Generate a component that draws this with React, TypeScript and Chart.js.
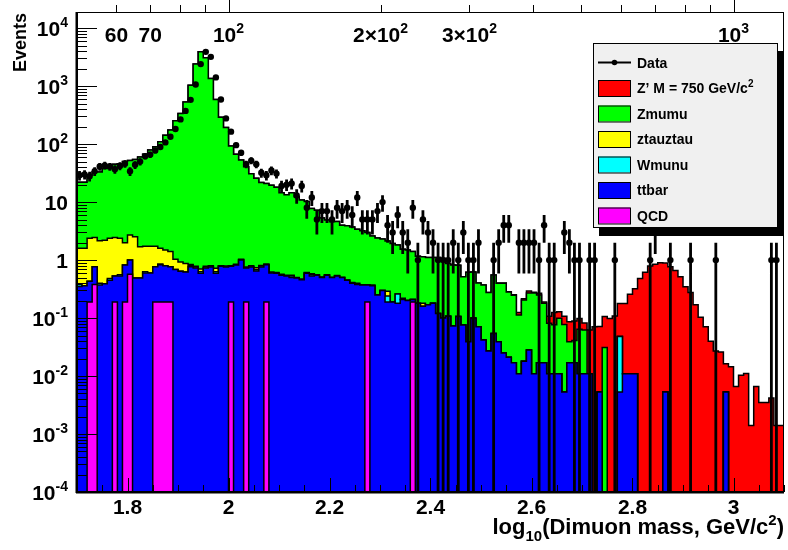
import React, { useEffect, useRef } from 'react';
import { Chart, registerables } from 'chart.js';

Chart.register(...registerables);

const X_MIN = 1.7;
const X_MAX = 3.1;
const BIN_WIDTH = 0.01;
const Y_MIN = 1e-4;
const Y_MAX = 1.9e4;
const FLOOR = 1e-9;
const FAM = '"Liberation Sans", Arial, Helvetica, sans-serif';

// ---- data (one value per bin of 0.01 in log10 mass, 1.70 .. 3.10) ----
const dataCounts = [
  29, 30, 28, 34, 41, 43, 41, 37, 42, 46,
  34, 44, 50, 62, 66, 78, 89, 107, 134, 182,
  267, 374, 580, 1070, 2400, 3900, 3200, 1415, 590, 278,
  164, 96, 71, 45, 52, 45, 32, 29, 35, 31,
  19, 20, 21, 13, 19, 8, 12, 5, 7, 7,
  5, 8, 7, 8, 6, 12, 5, 5, 5, 7,
  10, 4, 3, 6, 3, 2, 8, 1, 5, 3,
  2, 1, 1, 1, 2, 1, 3, 1, 1, 2,
  0, 0, 1, 2, 4, 4, 0, 2, 2, 2,
  2, 1, 4, 1, 1, 0, 3, 2, 1, 1,
  0, 1, 1, 0, 0, 0, 1, 0, 0, 0,
  0, 0, 0, 1, 3, 0, 0, 1, 0, 0,
  0, 1, 0, 0, 0, 0, 1, 0, 0, 0,
  0, 0, 0, 0, 0, 0, 0, 1, 1, 0,
];

const zprime = [
  0, 0, 0, 0, 0, 0, 0, 0, 0, 0,
  0, 0, 0, 0, 0, 0, 0, 0, 0, 0,
  0, 0, 0, 0, 0, 0, 0, 0, 0, 0,
  0, 0, 0, 0, 0, 0, 0, 0, 0, 0,
  0, 0, 0, 0, 0, 0, 0, 0, 0, 0,
  0, 0, 0, 0, 0, 0, 0, 0, 0, 0,
  0, 0, 0, 0, 0, 0, 0, 0, 0, 0,
  0, 0, 0, 0, 0, 0, 0, 0, 0, 0,
  0, 0, 0, 0, 0.003, 0.003, 0.004, 0.005, 0.012, 0.01,
  0.024, 0.01, 0.017, 0.01, 0.026, 0.048, 0.03, 0.03, 0.047, 0.048,
  0.034, 0.02, 0.051, 0.071, 0.066, 0.075, 0.098, 0.109, 0.13, 0.167,
  0.247, 0.31, 0.48, 0.614, 0.79, 0.845, 0.9, 0.885, 0.765, 0.66,
  0.516, 0.347, 0.276, 0.169, 0.103, 0.071, 0.04, 0.027, 0.026, 0.011,
  0.0145, 0.0066, 0.0103, 0.0111, 0.0014, 0.0066, 0.0035, 0.0035, 0.0042, 0.0014,
];

const zmumu = [
  17.8, 20.4, 20.4, 26.6, 30.5, 30.9, 35.8, 35.6, 42.5, 43.6,
  48, 49.3, 51.5, 58.3, 65.3, 77.3, 88.3, 108, 141, 173,
  252, 337, 534, 1040, 2400, 3900, 3100, 1350, 589, 289,
  193, 92, 66, 52, 40, 30, 25, 21, 20, 19,
  17.4, 13.9, 12.9, 14, 11.9, 10.4, 9.6, 7.2, 6.7, 4.8,
  4.35, 4.1, 4.07, 3.5, 3.45, 3.3, 3.0, 2.83, 2.63, 2.24,
  2.15, 2.0, 1.84, 1.75, 1.56, 1.32, 1.29, 1.19, 0.98, 0.96,
  0.94, 0.93, 0.99, 0.97, 0.77, 0.75, 0.71, 0.44, 0.58, 0.52,
  0.33, 0.33, 0.25, 0.5, 0.36, 0.375, 0.26, 0.23, 0.102, 0.187,
  0.242, 0.259, 0.233, 0.163, 0.07, 0.066, 0.088, 0.072, 0.022, 0.024,
  0.053, 0.051, 0, 0, 0, 0.031, 0, 0, 0, 0,
  0, 0, 0, 0, 0, 0, 0, 0, 0, 0,
  0, 0, 0, 0, 0, 0, 0, 0, 0, 0,
  0, 0, 0, 0, 0, 0, 0, 0, 0, 0,
];

const ztautau = [
  1.3, 1.22, 1.24, 1.94, 1.68, 1.75, 1.81, 1.89, 1.92, 1.81,
  1.18, 1.7, 2.04, 1.21, 1.11, 1.14, 0.97, 0.74, 0.69, 0.63,
  0.34, 0.29, 0.25, 0.03, 0.05, 0.07, 0.05, 0.04, 0.09, 0.02,
  0.03, 0.02, 0.03, 0.03, 0.03, 0.04, 0.06, 0.02, 0.03, 0.02,
  0.02, 0.02, 0.02, 0.02, 0.01, 0.01, 0.02, 0.02, 0.01, 0.01,
  0.01, 0, 0.01, 0, 0, 0.01, 0.02, 0, 0, 0.01,
  0, 0, 0.05, 0, 0, 0.01, 0, 0, 0, 0.02,
  0, 0, 0, 0, 0, 0, 0, 0, 0, 0.003,
  0, 0, 0, 0, 0, 0, 0, 0, 0, 0,
  0, 0, 0, 0, 0, 0, 0, 0, 0, 0,
  0, 0, 0, 0, 0, 0, 0, 0, 0, 0,
  0, 0, 0, 0, 0, 0, 0, 0, 0, 0,
  0, 0, 0, 0, 0, 0, 0, 0, 0, 0,
  0, 0, 0, 0, 0, 0, 0, 0, 0, 0,
];

const ttbar = [
  0.33, 0.35, 0.36, 0.24, 0.39, 0.37, 0.39, 0.45, 0.34, 0.53,
  0.63, 0.43, 0.49, 0.49, 0.6, 0.6, 0.58, 0.64, 0.61, 0.58,
  0.69, 0.64, 0.62, 0.77, 0.73, 0.59, 0.73, 0.76, 0.59, 0.78,
  0.76, 0.59, 0.82, 1.0, 0.54, 0.76, 0.65, 0.76, 0.64, 0.6,
  0.59, 0.55, 0.53, 0.5, 0.49, 0.46, 0.59, 0.53, 0.55, 0.5,
  0.55, 0.5, 0.53, 0.5, 0.45, 0.4, 0.38, 0.37, 0.18, 0.36,
  0.25, 0.3, 0.19, 0.19, 0.18, 0.21, 0.2, 0.02, 0.18, 0.16,
  0.17, 0.18, 0.12, 0.1, 0.107, 0.073, 0.106, 0.076, 0.039, 0.098,
  0.071, 0.042, 0.027, 0.054, 0.039, 0.025, 0.021, 0.017, 0.011, 0.018,
  0.028, 0.011, 0.017, 0.017, 0.011, 0.011, 0.011, 0.0053, 0.017, 0.017,
  0.011, 0.011, 0.011, 0, 0.0053, 0, 0, 0, 0.0053, 0.011,
  0.011, 0.011, 0, 0, 0, 0, 0, 0.0053, 0, 0,
  0, 0, 0, 0, 0, 0, 0, 0, 0, 0.0053,
  0, 0, 0, 0, 0, 0, 0, 0, 0, 0,
];

// sparse samples: bin index + content
const wmunuBins = [1, 5, 7, 9, 14, 17, 23, 25, 28, 36, 37, 43, 47, 62, 64, 108];
const wmunuVals = [0.03, 0.03, 0.03, 0.03, 0.03, 0.03, 0.04, 0.04, 0.04, 0.03, 0.03, 0.03, 0.03, 0.05, 0.08, 0.043];
const qcdBins = [0, 3, 4, 8, 10, 11, 16, 17, 18, 19, 31, 34, 38, 58, 67];
const qcdVals = [0.19, 0.19, 0.38, 0.19, 0.19, 0.57, 0.19, 0.19, 0.19, 0.19, 0.19, 0.19, 0.19, 0.19, 0.19];

const xTickLabels = ['1.8', '2', '2.2', '2.4', '2.6', '2.8', '3'];
const massTickValues = [60, 70, 80, 90, 100, 200, 300, 400, 500, 600, 700, 800, 900, 1000];
const massLabels: { m: number; parts: [string, string][] }[] = [
  { m: 60, parts: [['60', '']] },
  { m: 70, parts: [['70', '']] },
  { m: 100, parts: [['10', ''], ['2', 'sup']] },
  { m: 200, parts: [['2\u00d710', ''], ['2', 'sup']] },
  { m: 300, parts: [['3\u00d710', ''], ['2', 'sup']] },
  { m: 1000, parts: [['10', ''], ['3', 'sup']] },
];

const legendEntries = [
  { label: [['Data', '']], color: null },
  { label: [['Z\u2019 M = 750 GeV/c', ''], ['2', 'sup']], color: '#ff0000' },
  { label: [['Zmumu', '']], color: '#00ff00' },
  { label: [['ztauztau', '']], color: '#ffff00' },
  { label: [['Wmunu', '']], color: '#00ffff' },
  { label: [['ttbar', '']], color: '#0000ff' },
  { label: [['QCD', '']], color: '#ff00ff' },
];

function drawRich(ctx: CanvasRenderingContext2D, parts: any[], x: number, y: number, size: number, align: string) {
  const small = Math.round(size * 0.68);
  let w = 0;
  for (const [t, k] of parts) {
    ctx.font = `bold ${k ? small : size}px ${FAM}`;
    w += ctx.measureText(t).width;
  }
  let cx = align === 'left' ? x : align === 'right' ? x - w : x - w / 2;
  ctx.textAlign = 'left';
  ctx.textBaseline = 'alphabetic';
  for (const [t, k] of parts) {
    ctx.font = `bold ${k ? small : size}px ${FAM}`;
    const dy = k === 'sup' ? -size * 0.42 : k === 'sub' ? size * 0.32 : 0;
    ctx.fillText(t, cx, y + dy);
    cx += ctx.measureText(t).width;
  }
}

const rootPlugin = {
  id: 'rootDecor',
  afterDraw(chart: any) {
    const ctx: CanvasRenderingContext2D = chart.ctx;
    const xs = chart.scales.x;
    const ys = chart.scales.y;
    const a = chart.chartArea;
    const line = (x1: number, y1: number, x2: number, y2: number) => {
      ctx.beginPath();
      ctx.moveTo(x1, y1);
      ctx.lineTo(x2, y2);
      ctx.stroke();
    };
    ctx.save();
    ctx.strokeStyle = '#000';
    ctx.fillStyle = '#000';
    ctx.lineWidth = 1;
    // frame
    ctx.strokeRect(a.left + 0.5, a.top + 0.5, a.right - a.left - 1, a.bottom - a.top - 1);
    ctx.lineWidth = 2;
    line(a.left - 0.5, a.top, a.left - 0.5, a.bottom + 1);
    line(a.left - 1, a.bottom + 0.5, a.right, a.bottom + 0.5);
    ctx.lineWidth = 1;
    // y ticks
    for (let e = -4; e <= 4; e++) {
      for (let k = 1; k <= 9; k++) {
        const v = k * Math.pow(10, e);
        if (v > Y_MAX) break;
        const py = Math.round(ys.getPixelForValue(v)) + 0.5;
        line(a.left, py, a.left + (k === 1 ? 20 : 10), py);
      }
    }
    // y labels
    for (let e = -4; e <= 4; e++) {
      const py = ys.getPixelForValue(Math.pow(10, e));
      const parts = e === 0 ? [['1', '']] : e === 1 ? [['10', '']] : [['10', ''], [String(e), 'sup']];
      drawRich(ctx, parts, 68, py + 7.5, 21, 'right');
    }
    // x ticks (bottom)
    for (let i = 0; i <= 28; i++) {
      const v = X_MIN + 0.05 * i;
      if (v > X_MAX + 1e-9) break;
      const major = Math.abs(v * 5 - Math.round(v * 5)) < 1e-6;
      const px = Math.round(xs.getPixelForValue(v)) + 0.5;
      line(px, a.bottom, px, a.bottom - (major ? 14 : 7));
    }
    xTickLabels.forEach((t) => {
      const px = xs.getPixelForValue(parseFloat(t));
      drawRich(ctx, [[t, '']], px, a.bottom + 22, 21, 'center');
    });
    // top mass axis
    massTickValues.forEach((m) => {
      const px = Math.round(xs.getPixelForValue(Math.log10(m))) + 0.5;
      const dec = m === 100 || m === 1000;
      line(px, a.top, px, a.top - (dec ? 12 : 7));
    });
    massLabels.forEach((ml) => {
      const px = xs.getPixelForValue(Math.log10(ml.m));
      drawRich(ctx, ml.parts, px, a.top + 29.5, 21, 'center');
    });
    // axis titles
    drawRich(ctx, [['log', ''], ['10', 'sub'], ['(Dimuon mass, GeV/c', ''], ['2', 'sup'], [')', '']], 784, 534, 22, 'right');
    ctx.save();
    ctx.translate(26, 13);
    ctx.rotate(-Math.PI / 2);
    ctx.font = `bold 18px ${FAM}`;
    ctx.textAlign = 'right';
    ctx.textBaseline = 'alphabetic';
    ctx.fillText('Events', 0, 0);
    ctx.restore();
    // legend
    const lx = 593, ly = 43, lw = 185, lh = 185;
    ctx.fillStyle = '#000';
    ctx.fillRect(lx + 6, ly + 8, lw, lh);
    ctx.fillStyle = '#f0f0f0';
    ctx.fillRect(lx, ly, lw, lh);
    ctx.strokeStyle = '#000';
    ctx.lineWidth = 1;
    ctx.strokeRect(lx + 0.5, ly + 0.5, lw - 1, lh - 1);
    legendEntries.forEach((en, i) => {
      const cy = 62.5 + 25.5 * i;
      if (en.color) {
        ctx.fillStyle = en.color;
        ctx.fillRect(598, cy - 8, 32, 16);
        ctx.strokeStyle = '#000';
        ctx.lineWidth = 1;
        ctx.strokeRect(598.5, cy - 7.5, 32, 16);
      } else {
        ctx.strokeStyle = '#000';
        ctx.lineWidth = 2;
        line(598, cy, 631, cy);
        ctx.fillStyle = '#000';
        ctx.beginPath();
        ctx.arc(614.5, cy, 2.8, 0, Math.PI * 2);
        ctx.fill();
      }
      ctx.fillStyle = '#000';
      drawRich(ctx, en.label, 637, cy + 5, 14, 'left');
    });
    ctx.restore();
  },
};

function expand(bins: number[], vals: number[], n: number) {
  const out = new Array(n).fill(0);
  bins.forEach((b, i) => {
    out[b] = vals[i];
  });
  return out;
}

export default function App() {
  const ref = useRef<HTMLCanvasElement>(null);
  useEffect(() => {
    const canvas = ref.current;
    if (!canvas) return;
    const n = dataCounts.length;
    const qcd = expand(qcdBins, qcdVals, n);
    const wmunu = expand(wmunuBins, wmunuVals, n);
    const layers = [qcd, ttbar, wmunu, ztautau, zmumu, zprime];
    const colors = ['#ff00ff', '#0000ff', '#00ffff', '#ffff00', '#00ff00', '#ff0000'];
    const cum: number[][] = [];
    let run = new Array(n).fill(0);
    for (const l of layers) {
      run = run.map((v: number, i: number) => v + l[i]);
      cum.push(run);
    }
    const edge = (i: number) => +(X_MIN + BIN_WIDTH * i).toFixed(3);
    const hist = (vals: number[]) => {
      const pts = vals.map((v, i) => ({ x: edge(i), y: v > 1e-7 ? v : FLOOR }));
      pts.push({ x: X_MAX, y: pts[n - 1].y });
      return pts;
    };
    const histSets = cum.map((c, k) => ({
      type: 'line',
      data: hist(c),
      stepped: 'after',
      fill: 'start',
      backgroundColor: colors[k],
      borderColor: '#000',
      borderWidth: 1.5,
      pointRadius: 0,
      order: 2 + k,
    }));
    const errPts: any[] = [];
    const dotPts: any[] = [];
    dataCounts.forEach((c, i) => {
      if (c <= 0) return;
      const x = X_MIN + BIN_WIDTH * (i + 0.5);
      const s = Math.sqrt(c);
      errPts.push({ x, y: c - s > 1e-7 ? c - s : FLOOR }, { x, y: c + s }, { x, y: null });
      dotPts.push({ x, y: c });
    });
    const chart = new Chart(canvas, {
      type: 'line',
      data: {
        datasets: [
          {
            type: 'line',
            data: dotPts,
            showLine: false,
            pointRadius: 3.2,
            pointBackgroundColor: '#000',
            pointBorderColor: '#000',
            pointBorderWidth: 0,
            order: 0,
          },
          {
            type: 'line',
            data: errPts,
            borderColor: '#000',
            borderWidth: 2.8,
            pointRadius: 0,
            fill: false,
            spanGaps: false,
            order: 1,
          },
          ...histSets,
        ] as any,
      },
      options: {
        animation: false,
        responsive: false,
        devicePixelRatio: 1,
        events: [],
        layout: { padding: { left: 77, right: 0, top: 12, bottom: 58 } },
        plugins: { legend: { display: false }, tooltip: { enabled: false } },
        scales: {
          x: { type: 'linear', min: X_MIN, max: X_MAX, display: false },
          y: { type: 'logarithmic', min: Y_MIN, max: Y_MAX, display: false },
        },
      } as any,
      plugins: [rootPlugin],
    });
    return () => chart.destroy();
  }, []);
  return (
    <div style={{ position: 'fixed', left: 0, top: 0, width: 788, height: 550, background: '#fff' }}>
      <canvas ref={ref} width={788} height={550} style={{ display: 'block', width: 788, height: 550 }} />
    </div>
  );
}
